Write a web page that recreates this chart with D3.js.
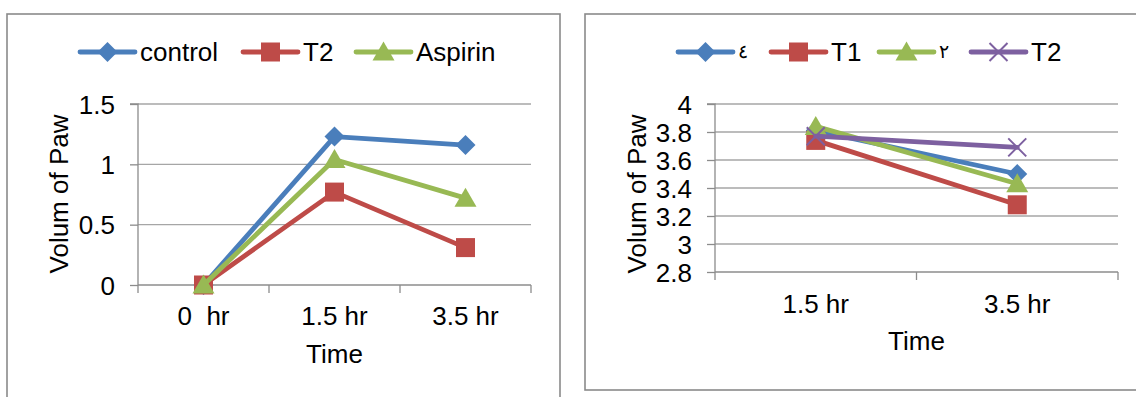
<!DOCTYPE html>
<html><head><meta charset="utf-8">
<script src="https://cdn.jsdelivr.net/npm/d3@7"></script>
<style>
html,body{margin:0;padding:0;background:#fff;}
svg text{font-family:"Liberation Sans",Arial,sans-serif;fill:#000;}
</style></head>
<body>
<svg id="c" width="1136" height="397"></svg>
<script>
// ---- Data: left chart ----
const leftCategories = ["0  hr", "1.5 hr", "3.5 hr"];
const leftSeriesNames = ["control", "T2", "Aspirin"];
const leftControl = [0, 1.23, 1.16];
const leftT2 = [0, 0.77, 0.31];
const leftAspirin = [0, 1.04, 0.72];
const leftYTicks = [0, 0.5, 1, 1.5];
const leftYTickLabels = ["0", "0.5", "1", "1.5"];

// ---- Data: right chart ----
const rightCategories = ["1.5 hr", "3.5 hr"];
const rightSeriesNames = ["\u0664", "T1", "\u0662", "T2"];
const rightS4 = [3.81, 3.50];
const rightT1 = [3.74, 3.28];
const rightS2 = [3.84, 3.43];
const rightT2 = [3.77, 3.69];
const rightYTicks = [2.8, 3, 3.2, 3.4, 3.6, 3.8, 4];
const rightYTickLabels = ["2.8", "3", "3.2", "3.4", "3.6", "3.8", "4"];

const yTitle = "Volum of Paw";
const xTitle = "Time";

const colors = {blue:"#4a7ebb", red:"#be4b48", green:"#98b954", purple:"#7d60a0"};
const FS = 26;

const svg = d3.select("#c");

// panel borders
svg.append("rect").attr("x",7).attr("y",14).attr("width",553).attr("height",420)
  .attr("fill","none").attr("stroke","#8a8a8a").attr("stroke-width",1.6);
svg.append("rect").attr("x",585).attr("y",14).attr("width",600).attr("height",376)
  .attr("fill","none").attr("stroke","#8a8a8a").attr("stroke-width",1.6);

function marker(g, type, cx, cy, color) {
  if (type === "diamond") {
    const s = 10;
    g.append("path").attr("d",`M${cx},${cy-s}L${cx+s},${cy}L${cx},${cy+s}L${cx-s},${cy}Z`).attr("fill",color);
  } else if (type === "square") {
    const s = 9.5;
    g.append("rect").attr("x",cx-s).attr("y",cy-s).attr("width",2*s).attr("height",2*s).attr("fill",color);
  } else if (type === "triangle") {
    const w = 11, h = 19;
    g.append("path").attr("d",`M${cx},${cy-h*0.55}L${cx+w},${cy+h*0.45}L${cx-w},${cy+h*0.45}Z`).attr("fill",color);
  } else if (type === "x") {
    const s = 9;
    g.append("path").attr("d",`M${cx-s},${cy-s}L${cx+s},${cy+s}M${cx-s},${cy+s}L${cx+s},${cy-s}`)
      .attr("stroke",color).attr("stroke-width",2).attr("fill","none");
  }
}

function drawChart(cfg) {
  const g = svg.append("g");
  const x = d3.scaleBand().domain(cfg.categories).range([cfg.x0, cfg.x1]).padding(0);
  const y = d3.scaleLinear().domain(cfg.yDomain).range([cfg.yB, cfg.yT]);

  // gridlines
  g.selectAll(".grid").data(cfg.yTicks.filter(v => v !== cfg.yDomain[0])).enter().append("line")
    .attr("x1",cfg.x0).attr("x2",cfg.x1).attr("y1",d=>y(d)).attr("y2",d=>y(d))
    .attr("stroke","#a6a6a6").attr("stroke-width",1.3);

  // y axis
  const ya = d3.axisLeft(y).tickValues(cfg.yTicks).tickFormat((d,i)=>cfg.yTickLabels[i]).tickSize(8).tickPadding(15);
  const yg = g.append("g").attr("transform",`translate(${cfg.x0},0)`).call(ya);
  yg.select(".domain").attr("stroke","#8c8c8c").attr("stroke-width",1.3).attr("d",`M-8,${cfg.yT}H0V${cfg.yB}`);
  yg.selectAll(".tick line").attr("stroke","#8c8c8c").attr("stroke-width",1.3);
  yg.selectAll(".tick text").attr("font-size",FS).attr("font-family","Liberation Sans, Arial, sans-serif").attr("fill","#000").attr("dy","0.35em");

  // x axis
  const boundaries = cfg.categories.map(c => x(c)).concat([cfg.x1]);
  g.append("line").attr("x1",cfg.x0).attr("x2",cfg.x1).attr("y1",cfg.yB).attr("y2",cfg.yB)
    .attr("stroke","#8c8c8c").attr("stroke-width",1.3);
  g.selectAll(".xt").data(boundaries).enter().append("line")
    .attr("x1",d=>d).attr("x2",d=>d).attr("y1",cfg.yB).attr("y2",cfg.yB+8)
    .attr("stroke","#8c8c8c").attr("stroke-width",1.3);
  g.selectAll(".xl").data(cfg.categories).enter().append("text")
    .attr("x",d=>x(d)+x.bandwidth()/2).attr("y",cfg.yB+cfg.xLabelOff)
    .attr("text-anchor","middle").attr("font-size",FS).style("white-space","pre").text(d=>d);

  // titles
  g.append("text").attr("x",(cfg.x0+cfg.x1)/2).attr("y",cfg.xTitleY).attr("text-anchor","middle")
    .attr("font-size",FS).text(xTitle);
  g.append("text").attr("transform",`translate(${cfg.yTitleX},${cfg.yTitleCY}) rotate(-90)`)
    .attr("text-anchor","middle").attr("font-size",FS).text(yTitle);

  // series
  const line = d3.line().x((d,i)=>x(cfg.categories[i])+x.bandwidth()/2).y(d=>y(d));
  cfg.series.forEach(s => {
    g.append("path").datum(s.values).attr("d",line).attr("fill","none")
      .attr("stroke",s.color).attr("stroke-width",4.8).attr("stroke-linejoin","round").attr("stroke-linecap","round");
    s.values.forEach((v,i)=>marker(g, s.marker, x(cfg.categories[i])+x.bandwidth()/2, y(v), s.color));
  });

  // legend
  cfg.series.forEach((s,i) => {
    const lx = cfg.legendX[i];
    g.append("line").attr("x1",lx).attr("x2",lx+55).attr("y1",cfg.legendY).attr("y2",cfg.legendY)
      .attr("stroke",s.color).attr("stroke-width",4.8).attr("stroke-linecap","round");
    marker(g, s.marker, lx+27.5, cfg.legendY, s.color);
    const isArabic = /[\u0600-\u06FF]/.test(s.name);
    g.append("text").attr("x",lx+60).attr("y",cfg.legendY+(isArabic?6:9))
      .attr("font-size",isArabic?19:FS).text(s.name);
  });
}

drawChart({
  categories: leftCategories, yDomain:[0,1.5], yTicks:leftYTicks, yTickLabels:leftYTickLabels,
  x0:138, x1:531, yT:104, yB:285, xLabelOff:40, xTitleY:363, yTitleX:68, yTitleCY:194,
  legendX:[80, 243, 356], legendY:52,
  series:[
    {name:leftSeriesNames[0], values:leftControl, color:colors.blue, marker:"diamond"},
    {name:leftSeriesNames[1], values:leftT2, color:colors.red, marker:"square"},
    {name:leftSeriesNames[2], values:leftAspirin, color:colors.green, marker:"triangle"}
  ]
});

drawChart({
  categories: rightCategories, yDomain:[2.8,4], yTicks:rightYTicks, yTickLabels:rightYTickLabels,
  x0:715, x1:1118, yT:104, yB:272, xLabelOff:41, xTitleY:350, yTitleX:646, yTitleCY:194,
  legendX:[678, 771, 879, 971], legendY:52,
  series:[
    {name:rightSeriesNames[0], values:rightS4, color:colors.blue, marker:"diamond"},
    {name:rightSeriesNames[1], values:rightT1, color:colors.red, marker:"square"},
    {name:rightSeriesNames[2], values:rightS2, color:colors.green, marker:"triangle"},
    {name:rightSeriesNames[3], values:rightT2, color:colors.purple, marker:"x"}
  ]
});
</script>
</body></html>
